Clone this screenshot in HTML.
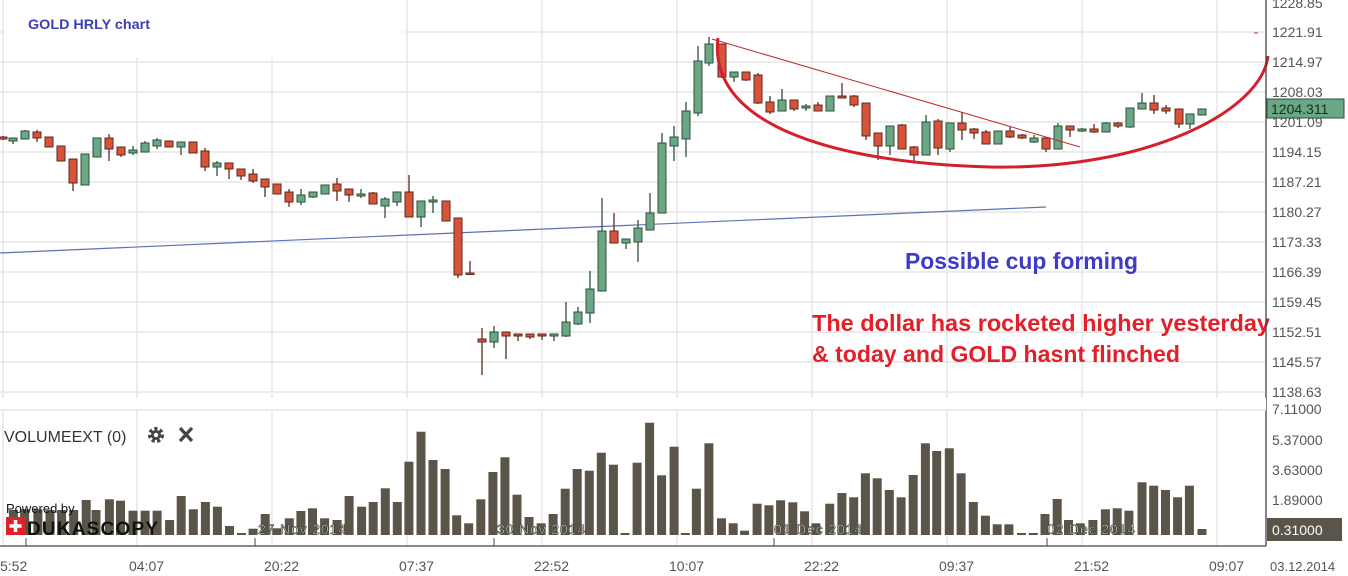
<!DOCTYPE html>
<html><head><meta charset="utf-8"><style>
html,body{margin:0;padding:0;background:#fff;}
svg{display:block;font-family:"Liberation Sans",sans-serif;}
</style></head><body>
<svg id="s" width="1348" height="576" xmlns="http://www.w3.org/2000/svg"></svg>
<script>
const s=document.getElementById('s');let h='';
const gx=[3,137,272,407,542,677,812,947,1082,1217];
gx.forEach(x=>h+=`<line x1="${x}" y1="0" x2="${x}" y2="546" stroke="#e6e6e6" stroke-width="1.5"/>`);
for(let i=0;i<13;i++){const y=32+i*30;h+=`<line x1="0" y1="${y}" x2="1266" y2="${y}" stroke="#e6e6e6" stroke-width="1.5"/>`;}
h+=`<rect x="4" y="0" width="400" height="58" fill="#fff"/>`;
h+=`<text x="28" y="29" font-size="14" font-weight="bold" fill="#3b3fb5" textLength="122" lengthAdjust="spacingAndGlyphs">GOLD HRLY chart</text>`;
h+=`<line x1="0" y1="253" x2="1046" y2="207" stroke="#5b73b5" stroke-width="1.2"/>`;
const C=[[3,137,139,136,140,0],[13,138,141,138,144,1],[25,131,139,130,139,1],[37,132,138,130,142,0],[49,137,147,137,147,0],[61,146,161,146,161,0],[73,159,183,159,191,0],[85,154,185,154,185,1],[97,138,157,138,157,1],[109,138,149,134,161,0],[121,147,155,147,157,0],[133,150,153,146,155,1],[145,143,152,141,152,1],[157,140,146,138,149,1],[169,141,147,141,147,0],[181,142,147,142,155,1],[193,142,153,142,153,0],[205,151,167,148,171,0],[217,163,167,161,176,1],[229,163,169,163,179,0],[241,169,176,169,180,0],[253,174,181,169,183,0],[265,179,187,179,197,0],[277,184,194,184,194,0],[289,192,202,189,207,0],[301,195,202,189,205,1],[313,192,197,192,198,1],[325,185,194,185,194,1],[337,184,191,178,201,0],[349,189,195,189,202,0],[361,194,196,189,198,1],[373,193,204,192,204,0],[385,199,206,197,218,1],[397,192,202,192,206,1],[409,192,217,175,217,0],[421,201,217,201,227,1],[433,200,202,196,213,1],[446,201,221,201,221,0],[458,218,275,218,278,0],[470,273,274,261,274,0],
[482,339,342,328,375,0],[494,332,342,326,348,1],[506,332,336,332,359,0],[518,334,336,334,341,0],[530,334,337,334,339,0],[542,334,336,334,340,0],[554,334,336,334,341,1],[566,322,336,302,337,1],[578,312,324,307,325,1],[590,289,313,271,323,1],[602,231,291,198,291,1],[614,231,243,213,243,0],[626,239,243,239,249,1],[638,228,242,220,262,1],[650,213,230,193,230,1],[662,143,213,133,213,1],[674,137,146,126,161,1],[686,111,139,102,157,1],[698,61,113,46,116,1],[709,44,63,37,66,1],[722,44,77,44,78,0],[734,72,77,72,82,1],[746,72,80,72,81,0],[758,75,103,73,104,0],[770,102,112,96,114,0],[782,100,111,89,111,1],[794,100,109,100,111,0],[806,106,108,104,111,1],[818,105,111,102,111,0],[830,96,111,96,111,1],[842,96,98,83,98,0],[854,96,105,95,107,0],[866,103,136,103,140,0],
[878,133,146,133,160,0],[890,126,146,126,155,1],[902,125,149,124,149,0],[914,147,155,146,161,0],[926,122,155,115,155,1],[938,121,148,119,155,0],[950,123,149,123,152,1],[962,123,130,112,140,0],[974,129,133,128,139,0],[986,132,144,130,144,0],[998,131,144,131,144,1],[1010,131,137,127,138,0],[1022,135,138,134,139,0],[1034,138,142,135,143,1],[1046,138,149,138,152,0],[1058,126,149,123,149,1],[1070,126,130,126,137,0],[1082,129,131,128,132,1],[1094,129,132,124,133,0],[1106,123,132,122,132,1],[1118,123,126,122,128,0],[1130,108,127,108,128,1],[1142,103,109,93,109,1],[1154,103,110,95,114,0],[1166,108,111,105,114,0],[1179,109,124,109,128,0],[1190,114,124,114,129,1],[1202,109,115,109,115,1]];
C.forEach(c=>{const[x,t,b,hi,lo,g]=c;const st=g?'#2f4f3c':'#5c2a1f',f=g?'#6aa885':'#d8533a';
h+=`<line x1="${x}" y1="${hi}" x2="${x}" y2="${lo}" stroke="${st}" stroke-width="1.3"/>`;
h+=`<rect x="${x-4}" y="${t}" width="8" height="${Math.max(b-t,1.5)}" fill="${f}" stroke="${st}" stroke-width="1"/>`;});
h+=`<line x1="712" y1="39" x2="1080" y2="147" stroke="#c0282a" stroke-width="1"/>`;
h+=`<path d="M718,38 C708,120 820,162 990,167 C1150,170 1262,110 1268,56" fill="none" stroke="#d4202a" stroke-width="3"/>`;
h+=`<line x1="1254" y1="33" x2="1258" y2="33" stroke="#c0282a"/>`;
h+=`<text x="905" y="269" font-size="23" font-weight="bold" fill="#3c3cc6" textLength="233" lengthAdjust="spacingAndGlyphs">Possible cup forming</text>`;
h+=`<text x="812" y="331" font-size="23" font-weight="bold" fill="#e3202a" textLength="458" lengthAdjust="spacingAndGlyphs">The dollar has rocketed higher yesterday</text>`;
h+=`<text x="812" y="362" font-size="23" font-weight="bold" fill="#e3202a" textLength="368" lengthAdjust="spacingAndGlyphs">&amp; today and GOLD hasnt flinched</text>`;
h+=`<line x1="1266" y1="0" x2="1266" y2="546" stroke="#444" stroke-width="1.3"/>`;
const P=['1221.91','1214.97','1208.03','1201.09','1194.15','1187.21','1180.27','1173.33','1166.39','1159.45','1152.51','1145.57','1138.63'];
h+=`<text x="1272" y="8" font-size="14" fill="#555">1228.85</text>`;
P.forEach((p,i)=>h+=`<text x="1272" y="${37+i*30}" font-size="14" fill="#555">${p}</text>`);
h+=`<rect x="1267" y="99" width="77" height="19" fill="#6aa885" stroke="#2f4f3c"/><text x="1271" y="114" font-size="14" fill="#1a2a20">1204.311</text>`;
h+=`<rect x="0" y="398" width="1266" height="12" fill="#fff"/><rect x="1267" y="398" width="81" height="10" fill="#fff"/>`;
h+=`<line x1="0" y1="410" x2="1266" y2="410" stroke="#e6e6e6" stroke-width="1.5"/>`;
h+=`<text x="1272" y="414" font-size="14" fill="#555">7.11000</text>`;
[['5.37000',445],['3.63000',475],['1.89000',505]].forEach(a=>h+=`<text x="1272" y="${a[1]}" font-size="14" fill="#555">${a[0]}</text>`);
h+=`<rect x="1267" y="518" width="75" height="23" fill="#5b5448"/><text x="1272" y="535" font-size="14" fill="#fff">0.31000</text>`;
const V1=[[30,300],[55,298],[85,298],[112,300],[138,300],[165,300],[193,270],[215,300],[245,268],[270,272],[298,302],[325,302],[352,302],[380,330],[406,258],[433,298],[460,276],[487,290],[514,348],[541,370],[567,356],[594,312],[620,355],[648,325],[674,303],[700,295],[727,325],[755,330],[782,258],[810,290],[836,276],[863,235],[890,276],[916,155],[943,65],[970,150],[997,177],[1023,316],[1050,340],[1077,268],[1104,186],[1131,142],[1158,254],[1185,321],[1212,340],[1239,312],[1266,236],[1293,177],[1320,182],[1347,128],[1374,164],[1400,370],[1427,158],[1455,38],[1482,196],[1510,110],[1535,370],[1560,236]];
const V2=[[45,100],[75,325],[103,340],[130,362],[160,281],[188,286],[216,271],[245,277],[273,304],[300,340],[333,281],[362,249],[390,262],[418,190],[446,205],[475,240],[503,262],[532,195],[561,100],[588,123],[618,115],[646,190],[675,276],[704,317],[732,343],[760,343],[790,370],[818,370],[846,312],[875,267],[902,330],[930,340],[960,330],[990,298],[1018,295],[1046,302],[1077,217],[1105,227],[1133,240],[1162,262],[1190,227],[1220,357]];
const bar=(x,y)=>{y=Math.min(y,533);h+=`<rect x="${(x-4.5).toFixed(1)}" y="${y.toFixed(1)}" width="9" height="${(535-y).toFixed(1)}" fill="#5b5448"/>`;};
V1.forEach(v=>bar(v[0]/2.24,410+v[1]/3));V2.forEach(v=>bar(690+v[0]/2.383,410+v[1]/3));
h+=`<text x="4" y="442" font-size="16" fill="#333">VOLUMEEXT (0)</text>`;
h+=`<g transform="translate(156,435)"><circle r="6" fill="none" stroke="#444" stroke-width="4" stroke-dasharray="3 2.3"/><circle r="5" fill="#444"/><circle r="2.2" fill="#fff"/></g>`;
h+=`<path d="M180,428 L192,441 M192,428 L180,441" stroke="#444" stroke-width="3.2"/>`;
h+=`<text x="6" y="513" font-size="13" fill="#111">Powered by</text>`;
h+=`<rect x="6" y="517" width="19" height="18" fill="#e3202a"/><path d="M15.5,520v12M9.5,526h12" stroke="#fff" stroke-width="3.5"/>`;
h+=`<text x="27" y="535" font-size="19" font-weight="bold" fill="#111" textLength="131">DUKASCOPY</text>`;
h+=`<line x1="0" y1="546" x2="1266" y2="546" stroke="#444" stroke-width="1.3"/>`;
[26,255,494,774,1047].forEach(x=>h+=`<line x1="${x}" y1="538" x2="${x}" y2="546" stroke="#444"/>`);
[['27 Nov 2014',258],['30 Nov 2014',497],['01 Dec 2014',774],['02 Dec 2014',1047]].forEach(a=>h+=`<text x="${a[1]}" y="534" font-size="14" fill="#eee" stroke="#333" stroke-width="0.6" textLength="88">${a[0]}</text>`);
[['5:52',0],['04:07',129],['20:22',264],['07:37',399],['22:52',534],['10:07',669],['22:22',804],['09:37',939],['21:52',1074],['09:07',1209]].forEach(a=>h+=`<text x="${a[1]}" y="571" font-size="14" fill="#555">${a[0]}</text>`);
h+=`<text x="1270" y="571" font-size="13" fill="#555">03.12.2014</text>`;
s.innerHTML=h;
</script>
</body></html>
